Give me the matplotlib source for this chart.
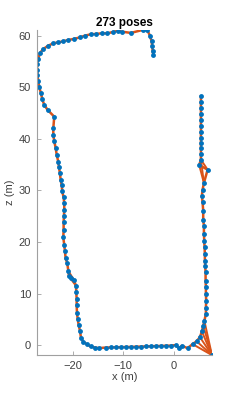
"""Pose graph of the optimized trajectory (top view, x vs z)."""

import matplotlib

matplotlib.use("Agg")
import matplotlib.pyplot as plt

# pose positions along the odometry chain (metres)
pose_x = [
    -4.08, -4.20, -4.28, -4.40, -4.73, -5.27, -6.17, -8.48, -10.31, -10.98,
    -11.97, -13.15, -14.26, -15.38, -16.43, -17.55, -18.54, -19.72, -20.84, -21.83,
    -22.82, -23.80, -24.79, -25.77, -26.42, -26.76, -27.07, -26.96, -26.96, -26.76,
    -26.56, -26.23, -25.97, -25.58, -24.91, -23.61, -23.80, -23.80, -23.61, -23.33,
    -23.13, -22.82, -22.68, -22.49, -22.35, -22.15, -22.03, -21.76, -21.64, -21.64,
    -21.70, -21.76, -21.76, -21.83, -21.64, -21.50, -21.36, -21.04, -20.84, -20.71,
    -20.31, -19.72, -19.33, -19.27, -19.19, -19.19, -19.13, -18.99, -18.79, -18.54,
    -18.34, -17.88, -17.21, -16.43, -15.58, -14.79,
    -13.41, -12.42, -11.44, -10.45, -9.47, -8.48, -7.50, -6.51, -5.52, -4.54,
    -3.55, -2.56, -1.58, -0.65,
    0.34, 0.99, 1.52, 2.70, 3.69, 4.48, 5.13, 5.52, 5.78, 6.01,
    6.31, 6.31, 6.37, 6.31, 6.31, 6.25, 6.25, 6.17, 6.11, 6.11,
    6.05, 5.98, 5.92, 5.92, 5.78, 5.78, 5.66, 5.52, 5.66, 5.92,
    6.65, 4.99, 5.33, 5.33, 5.33, 5.33, 5.33, 5.33, 5.33, 5.33,
    5.33, 5.33, 5.33, 5.33,
]
pose_z = [
    56.32, 57.09, 57.93, 58.90, 60.00, 61.11, 61.11, 60.53, 60.78, 60.97,
    60.72, 60.45, 60.45, 60.33, 60.26, 60.00, 59.67, 59.36, 59.17, 58.90,
    58.70, 58.51, 58.06, 57.42, 56.65, 55.48, 54.51, 53.35, 52.44, 51.14,
    49.97, 48.81, 47.65, 46.56, 45.59, 44.29, 42.02, 40.80, 39.50, 38.22,
    36.92, 35.56, 34.45, 33.29, 32.07, 31.04, 29.80, 28.63, 27.47, 26.19,
    25.08, 23.78, 22.31, 20.87, 19.46, 18.16, 16.80, 15.83, 14.41, 13.31,
    13.00, 12.61, 11.50, 10.20, 8.92, 7.76, 6.32, 5.04, 3.88, 2.77,
    1.47, 0.64, 0.19, -0.27, -0.47, -0.58,
    -0.47, -0.45, -0.43, -0.40, -0.37, -0.35, -0.32, -0.30, -0.27, -0.24,
    -0.20, -0.17, -0.13, -0.10,
    0.00, -0.58, -0.14, -0.58, 0.19, 0.74, 1.55, 2.64, 3.74, 4.71,
    6.01, 7.29, 8.59, 9.89, 11.17, 12.47, 14.08, 15.38, 16.35, 17.65,
    18.93, 20.23, 21.59, 23.14, 24.25, 26.05, 27.66, 28.96, 30.13, 31.43,
    34.01, 34.92, 35.95, 37.05, 38.14, 39.19, 40.22, 41.38, 42.41, 43.57,
    44.74, 45.90, 47.20, 48.23,
]

# isolated pose in the corner that only has loop-closure edges
extra_x = [7.50]
extra_z = [-1.94]

# loop closures as (from, to) pose indices; -1 is the corner pose
loop_edges = [
    (-1, 94), (-1, 95), (-1, 96), (-1, 97), (-1, 98), (-1, 99),
    (122, 120), (121, 119), (122, 119),
    (58, 61), (59, 62),
]

n_chain = len(pose_x)
all_x = pose_x + extra_x
all_z = pose_z + extra_z

EDGE = "#D95319"
NODE = "#0072BD"
AXC = "#404040"

plt.rcParams["font.family"] = ["Liberation Sans", "DejaVu Sans"]

fig = plt.figure(figsize=(2.4, 3.99), dpi=100)
ax = fig.add_axes([0.153, 0.110, 0.730, 0.815])

ax.plot(pose_x, pose_z, color=EDGE, lw=1.8, zorder=1)
for a, b in loop_edges:
    ia = n_chain if a == -1 else a
    ax.plot([all_x[ia], all_x[b]], [all_z[ia], all_z[b]], color=EDGE, lw=1.4, zorder=1)
ax.plot(all_x, all_z, ls="none", marker="o", ms=3.5, color=NODE, mew=0, zorder=2)

ax.set_xlim(min(all_x), max(all_x))
ax.set_ylim(min(all_z), max(all_z))
ax.set_xticks([-20, -10, 0])
ax.set_yticks([0, 10, 20, 30, 40, 50, 60])

for side in ("top", "right"):
    ax.spines[side].set_visible(False)
for side in ("left", "bottom"):
    ax.spines[side].set_color("#a0a0a0")
    ax.spines[side].set_linewidth(0.8)
ax.tick_params(direction="in", length=3, width=0.6, color="#a0a0a0",
               labelsize=8, labelcolor=AXC, pad=4)

ax.set_title("273 poses", fontsize=8.5, fontweight="bold", pad=3)
ax.set_xlabel("x (m)", fontsize=8, color=AXC, labelpad=1)
ax.set_ylabel("z (m)", fontsize=8, color=AXC, labelpad=3)

fig.savefig("out.png", dpi=100)
